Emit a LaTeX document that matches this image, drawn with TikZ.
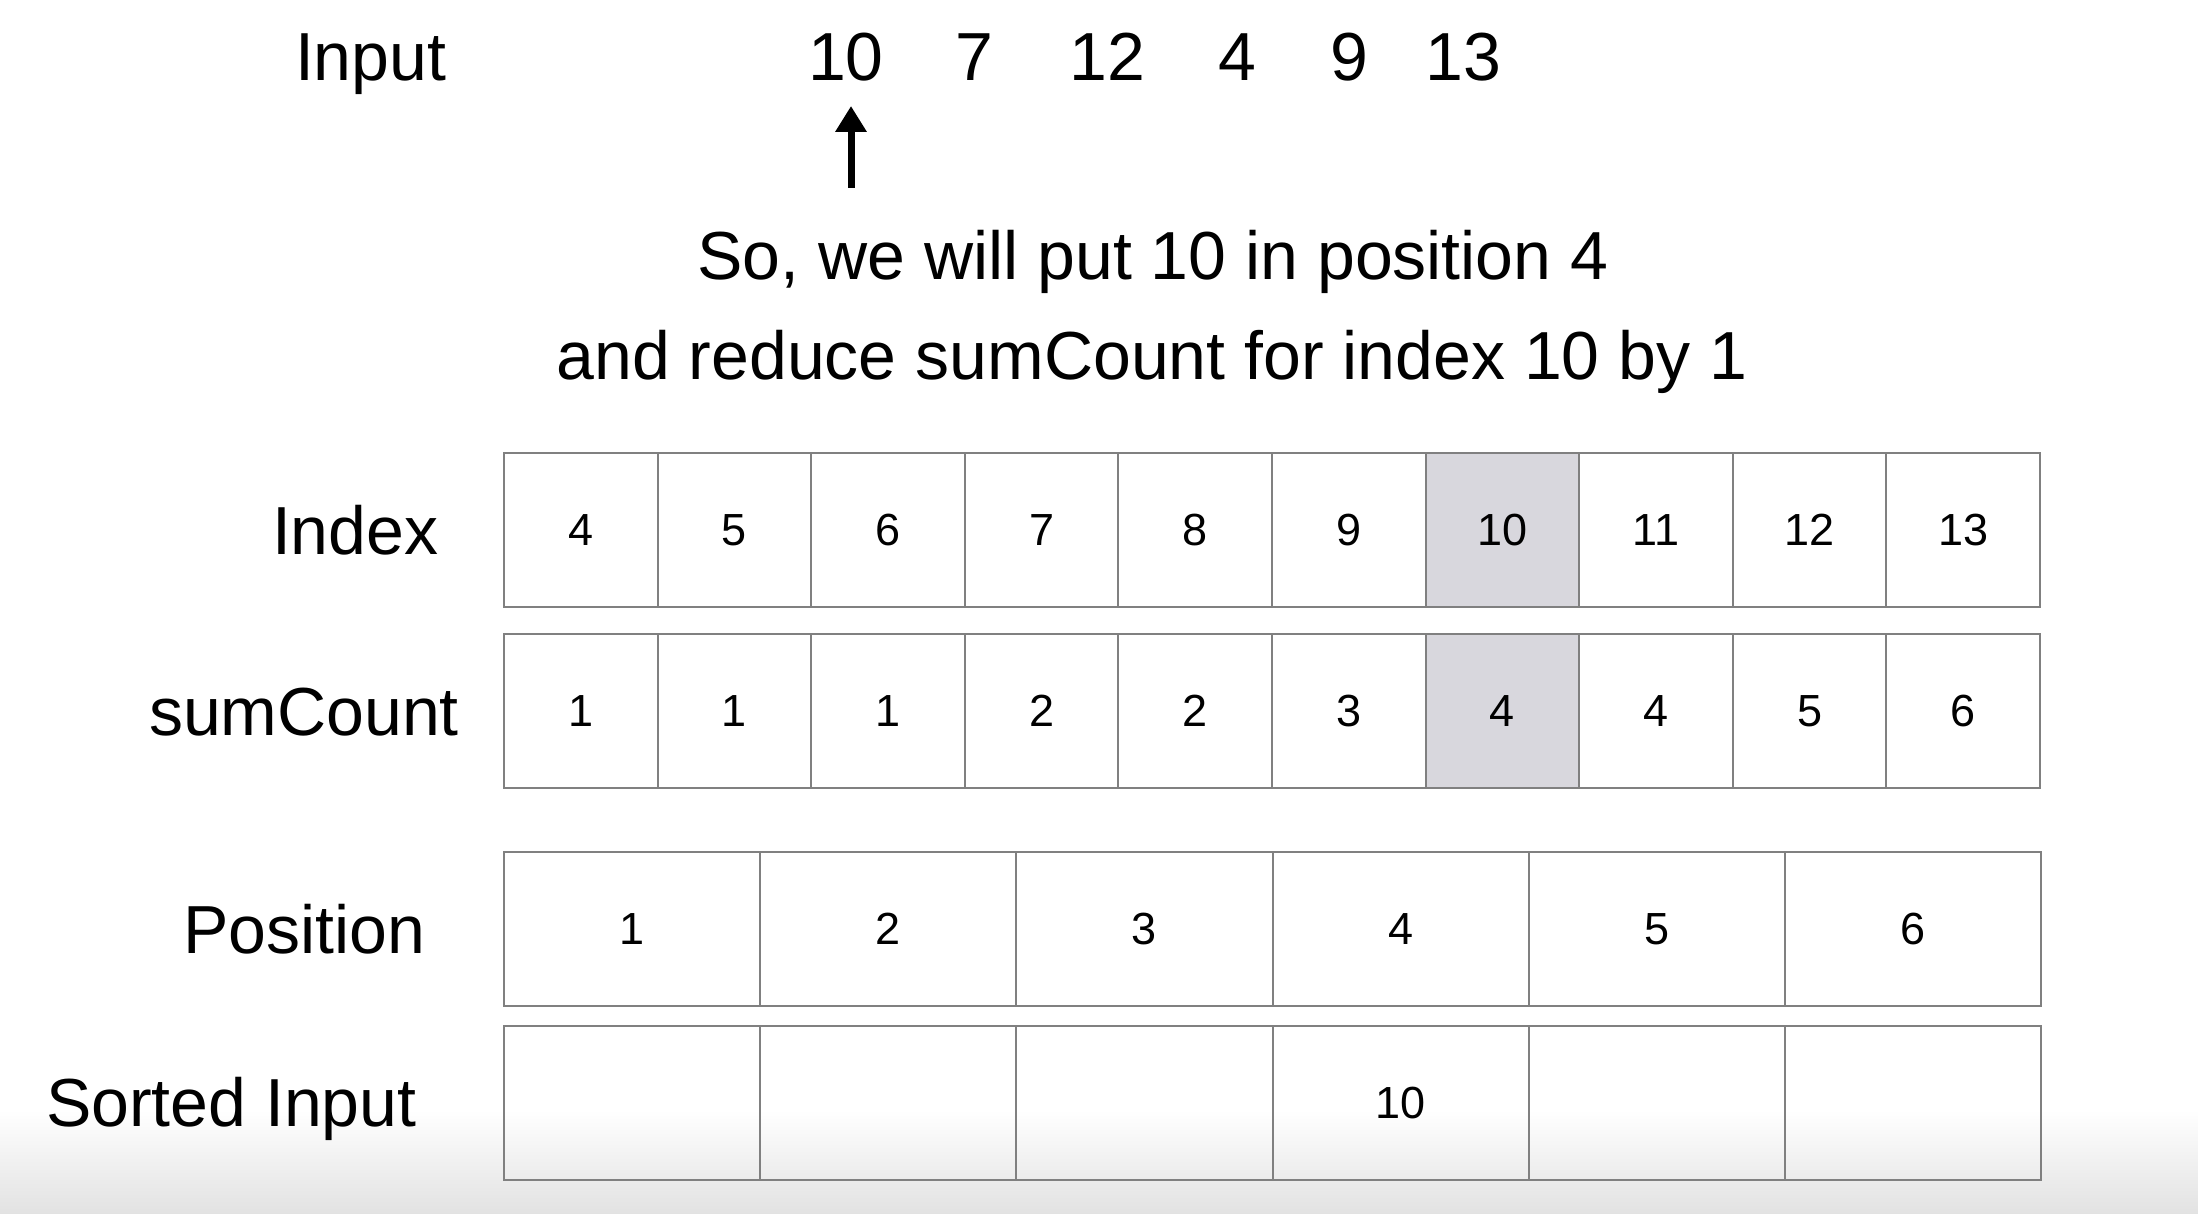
\documentclass[tikz,border=0pt]{standalone}
\usepackage{fontspec}
\setmainfont{Liberation Sans}
\usetikzlibrary{arrows.meta,calc}
\definecolor{cellborder}{RGB}{128,128,128}
\definecolor{hl}{RGB}{216,215,221}
\definecolor{bggray}{RGB}{226,226,226}
\begin{document}
\begin{tikzpicture}[x=1pt,y=-1pt,
  cell/.style={draw=cellborder,line width=2pt,minimum width=153.6pt,minimum height=154pt,
    inner sep=0pt,outer sep=0pt,font=\fontsize{45}{54}\selectfont,anchor=north west},
  hlcell/.style={cell,fill=hl},
  wcell/.style={cell,minimum width=256.17pt},
  big/.style={font=\fontsize{68}{80}\selectfont,inner sep=0pt,outer sep=0pt},
  arrowline/.style={line width=7pt,-{Triangle[length=26pt,width=30pt]}}]
% background
\fill[white] (0,0) rectangle (2198,1214);
\shade[top color=white,bottom color=bggray] (0,1110) rectangle (2198,1214);
\useasboundingbox (0,0) rectangle (2198,1214);

% input row
\node[big,anchor=base west] (lblInput) at (295,81) {Input};
\foreach \v/\x [count=\i] in {10/846,7/974,12/1107,4/1237,9/1349,13/1463}
  \node[big,anchor=base] (in\i) at (\x,81) {\v};

% arrow
\coordinate (atail) at (851,188);
\coordinate (ahead) at (851,106);
\draw[arrowline] (atail) -- (ahead);

% message
\node[big,anchor=base] (msg1) at (1153,280) {So, we will put 10 in position 4};
\node[big,anchor=base] (msg2) at (1152,380) {and reduce sumCount for index 10 by 1};

% labels
\node[big,anchor=base west] (lblIndex) at (272,554) {Index};
\node[big,anchor=base west] (lblSum) at (149,735) {sumCount};
\node[big,anchor=base west] (lblPos) at (183,953) {Position};
\node[big,anchor=base west] (lblSorted) at (46,1126) {Sorted Input};

% index row
\foreach \v/\s [count=\i] in {4/cell,5/cell,6/cell,7/cell,8/cell,9/cell,10/hlcell,11/cell,12/cell,13/cell}
  \node[\s] (idx\i) at ({504+(\i-1)*153.6},453) {\v};

% sumCount row
\foreach \v/\s [count=\i] in {1/cell,1/cell,1/cell,2/cell,2/cell,3/cell,4/hlcell,4/cell,5/cell,6/cell}
  \node[\s] (sum\i) at ({504+(\i-1)*153.6},634) {\v};

% position row
\foreach \v [count=\i] in {1,2,3,4,5,6}
  \node[wcell] (pos\i) at ({504+(\i-1)*256.17},852) {\v};

% sorted input row
\foreach \v [count=\i] in {{},{},{},10,{},{}}
  \node[wcell] (srt\i) at ({504+(\i-1)*256.17},1026) {\v};
\end{tikzpicture}
\end{document}
